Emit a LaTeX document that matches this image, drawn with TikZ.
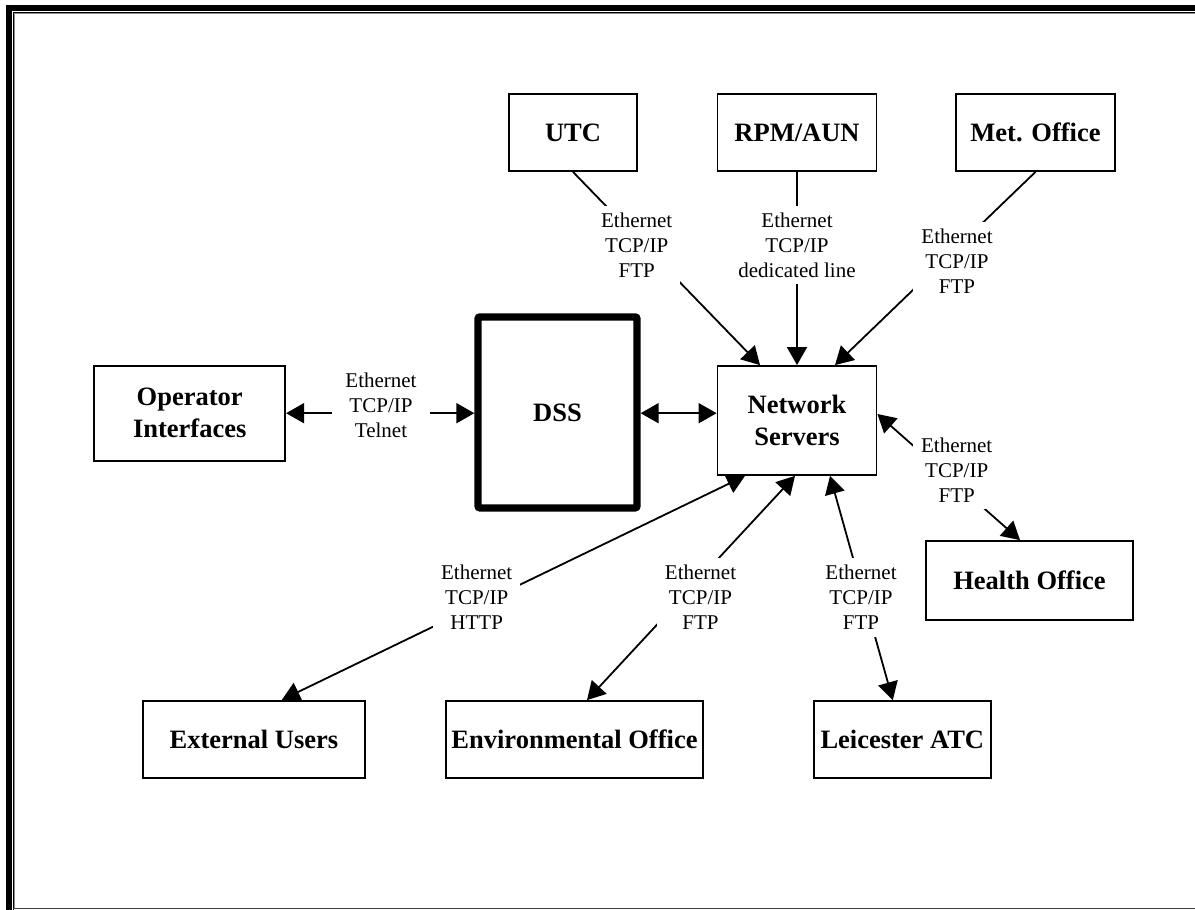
\documentclass[tikz,border=0pt]{standalone}
\usepackage{fontspec}
\setmainfont{Liberation Serif}
\usetikzlibrary{arrows.meta,backgrounds}

\begin{document}
\begin{tikzpicture}[x=1pt,y=-1pt,
  box/.style={draw, line width=1.8pt, inner sep=0pt, align=center,
    font=\fontsize{26.5}{32}\selectfont\bfseries},
  corebox/.style={box, line width=7.3pt, rounded corners=2pt},
  lbl/.style={fill=white, inner xsep=8pt, inner ysep=7pt, align=center,
    font=\fontsize{21}{25}\selectfont},
  conn/.style={line width=1.8pt},
  head/.style={-{Triangle[length=18pt,width=20pt]}},
  heads/.style={{Triangle[length=18pt,width=20pt]}-{Triangle[length=18pt,width=20pt]}}
]
\useasboundingbox (0,0) rectangle (1195,910);

% page frame
\fill (6,5) rectangle (12.3,910);
\fill (6,5) rectangle (1195,11.3);
\draw[line width=1.1pt] (13.4,910) -- (13.4,12.4) -- (1195,12.4);
\draw[line width=1.2pt, black!45] (14.6,908) -- (14.6,13.6) -- (1195,13.6);
\draw[line width=1.6pt, black!75] (13,908.3) -- (1195,908.3);

% systems
\node[box, minimum width=128pt, minimum height=77pt] (utc) at (573,132.5) {UTC};
\node[box, minimum width=159pt, minimum height=77pt] (rpm) at (797,132.5) {RPM/AUN};
\node[box, minimum width=159pt, minimum height=77pt] (met) at (1035.5,132.5) {Met. Office};
\node[box, minimum width=191pt, minimum height=95pt] (op) at (189.7,413.2) {Operator\\Interfaces};
\node[corebox, minimum width=159pt, minimum height=191pt] (dss) at (557.5,412.4) {DSS};
\node[box, minimum width=159pt, minimum height=109pt] (ns) at (797,420.5) {Network\\Servers};
\node[box, minimum width=207pt, minimum height=79pt] (health) at (1029.5,580.5) {Health Office};
\node[box, minimum width=222pt, minimum height=77pt] (ext) at (253.9,739.2) {External Users};
\node[box, minimum width=257pt, minimum height=77pt] (env) at (574.5,739.5) {Environmental Office};
\node[box, minimum width=177pt, minimum height=77pt] (lei) at (902.3,739.5) {Leicester ATC};

% link labels
\node[lbl] (l1) at (636.7,245) {Ethernet\\TCP/IP\\FTP};
\node[lbl] (l2) at (797,245) {Ethernet\\TCP/IP\\dedicated line};
\node[lbl] (l3) at (957,261) {Ethernet\\TCP/IP\\FTP};
\node[lbl] (l4) at (956.7,470) {Ethernet\\TCP/IP\\FTP};
\node[lbl] (l5) at (861,597.5) {Ethernet\\TCP/IP\\FTP};
\node[lbl] (l6) at (700.5,597.5) {Ethernet\\TCP/IP\\FTP};
\node[lbl] (l7) at (476.7,597.5) {Ethernet\\TCP/IP\\HTTP};
\node[lbl, inner xsep=13pt] (l8) at (381,405.5) {Ethernet\\TCP/IP\\Telnet};

% links, drawn behind the labels
\begin{scope}[on background layer]
  \draw[conn, head] (utc.south) -- ([xshift=-37pt]ns.north);
  \draw[conn, head] (rpm.south) -- (ns.north);
  \draw[conn, head] (met.south) -- ([xshift=38pt]ns.north);
  \draw[conn, heads] ([yshift=6.5pt]ns.east) -- ([xshift=-9.5pt]health.north);
  \draw[conn, heads] ([xshift=33pt]ns.south) -- ([xshift=-9.5pt]lei.north);
  \draw[conn, heads] ([xshift=-2pt]ns.south) -- ([xshift=12.5pt]env.north);
  \draw[conn, heads] ([xshift=-52pt]ns.south) -- ([xshift=28pt]ext.north);
  \draw[conn, heads] (op.east) -- (op.east -| dss.west);
  \draw[conn, heads] (op.east -| dss.east) -- (op.east -| ns.west);
\end{scope}
\end{tikzpicture}
\end{document}
